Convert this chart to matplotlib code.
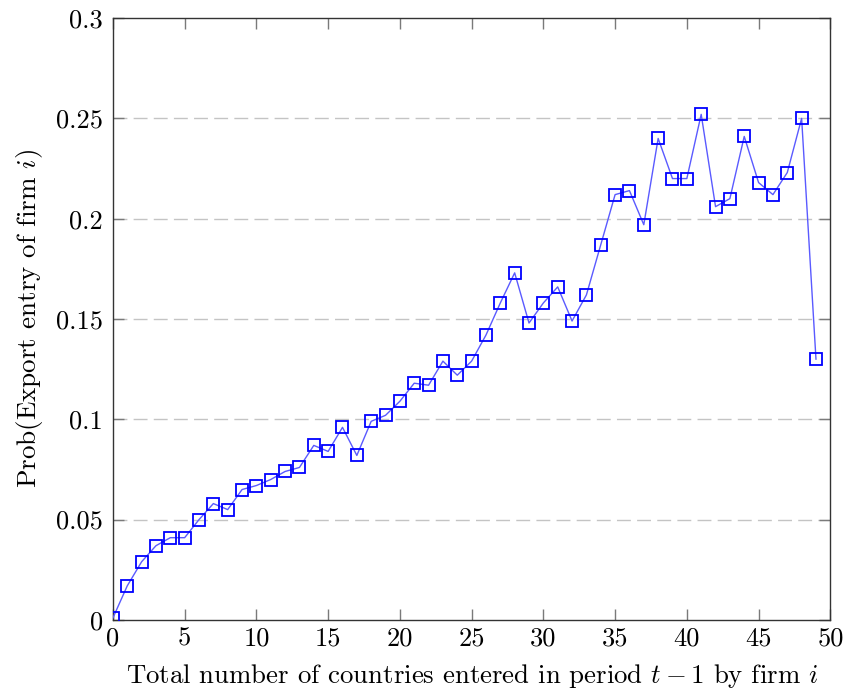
import numpy as np
import matplotlib
matplotlib.use('Agg')
import matplotlib.pyplot as plt

# data
n_countries = list(range(50))
prob_entry = [0.001, 0.017, 0.029, 0.037, 0.041, 0.041, 0.050, 0.058, 0.055, 0.065,
              0.067, 0.070, 0.074, 0.076, 0.087, 0.084, 0.096, 0.082, 0.099, 0.102,
              0.109, 0.118, 0.117, 0.129, 0.122, 0.129, 0.142, 0.158, 0.173, 0.148,
              0.158, 0.166, 0.149, 0.162, 0.187, 0.212, 0.214, 0.197, 0.240, 0.220,
              0.220, 0.252, 0.206, 0.210, 0.241, 0.218, 0.212, 0.223, 0.250, 0.130]
x_ticks = [0, 5, 10, 15, 20, 25, 30, 35, 40, 45, 50]
y_ticks = [0, 0.05, 0.1, 0.15, 0.2, 0.25, 0.3]
y_ticklabels = ['0', '0.05', '0.1', '0.15', '0.2', '0.25', '0.3']

plt.rcParams['font.family'] = ['cmr10', 'DejaVu Serif']
plt.rcParams['mathtext.fontset'] = 'cm'
plt.rcParams['axes.formatter.use_mathtext'] = True

fig = plt.figure(figsize=(8.49, 6.95), dpi=100)
ax = fig.add_axes([0.133, 0.108, 0.845, 0.866])

ax.plot(n_countries, prob_entry, color='#5a5aff', linewidth=1.0, zorder=3)
ax.plot(n_countries, prob_entry, linestyle='none', marker='s', markersize=8.5,
        markerfacecolor='none', markeredgecolor='#0000ff', markeredgewidth=1.3, zorder=4)

# horizontal dashed grid
for y in y_ticks[1:-1]:
    ax.axhline(y, color='#c4c4c4', linestyle=(0, (10, 4.5)), linewidth=1.0, zorder=1)

ax.set_xlim(0, 50)
ax.set_ylim(0, 0.3)
ax.set_xticks(x_ticks)
ax.set_xticklabels([str(t) for t in x_ticks])
ax.set_yticks(y_ticks)
ax.set_yticklabels(y_ticklabels)
ax.tick_params(direction='in', length=8, width=1, colors='#7a7a7a', labelcolor='black',
               labelsize=19, top=True, right=True)
ax.tick_params(axis='x', pad=5)
ax.tick_params(axis='y', pad=7)
for sp in ax.spines.values():
    sp.set_color('#333333')
    sp.set_linewidth(1.0)

ax.set_xlabel('Total number of countries entered in period $t-1$ by firm $i$', fontsize=19.3, labelpad=8)
ax.set_ylabel('Prob(Export entry of firm $i$)', fontsize=19.5, labelpad=8)

fig.savefig('out.png', dpi=100)
